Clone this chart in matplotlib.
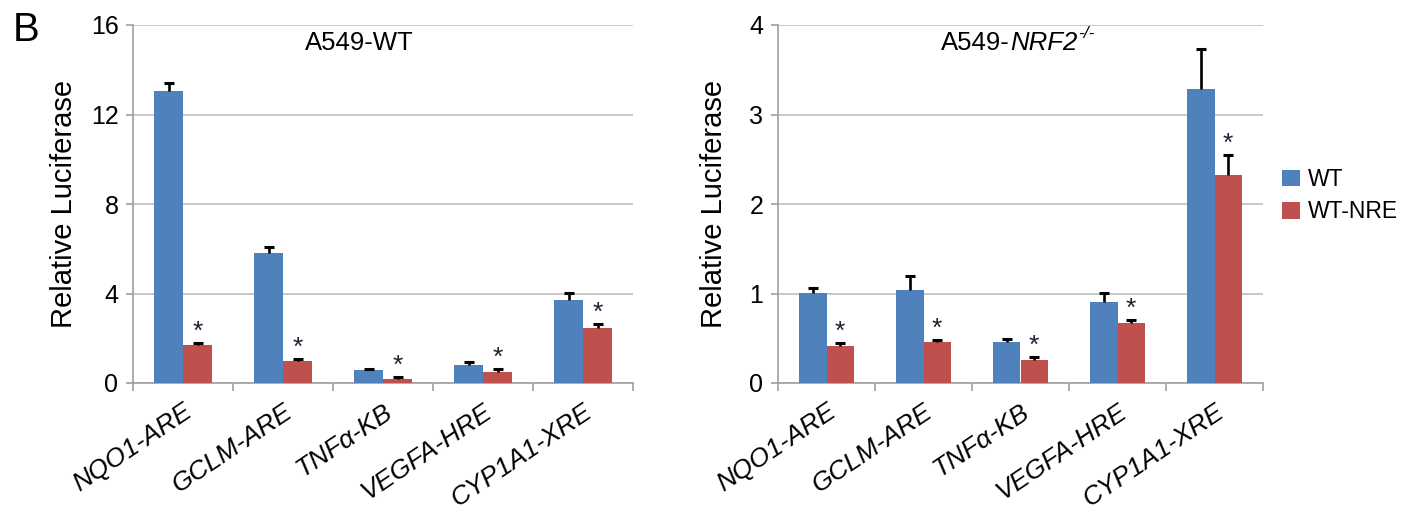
import matplotlib
matplotlib.use("Agg")
import matplotlib.pyplot as plt
import matplotlib.transforms as mtransforms
import numpy as np
from matplotlib.patches import Patch
from matplotlib.text import Annotation

plt.rcParams['font.family'] = ['Liberation Sans', 'DejaVu Sans']

categories = ["NQO1-ARE", "GCLM-ARE", "TNFα-KB", "VEGFA-HRE", "CYP1A1-XRE"]
series_names = ["WT", "WT-NRE"]

# A549-WT
wt_left = [13.07, 5.83, 0.56, 0.79, 3.72]
wt_left_err = [0.36, 0.27, 0.07, 0.17, 0.30]
nre_left = [1.68, 0.98, 0.19, 0.49, 2.45]
nre_left_err = [0.10, 0.10, 0.08, 0.12, 0.19]

# A549-NRF2-/-
wt_right = [1.01, 1.04, 0.46, 0.91, 3.28]
wt_right_err = [0.05, 0.15, 0.03, 0.10, 0.45]
nre_right = [0.41, 0.46, 0.26, 0.67, 2.32]
nre_right_err = [0.035, 0.025, 0.035, 0.03, 0.23]

blue = '#4F81BD'
red = '#C0504D'
grid_c = '#BFBFBF'
spine_c = '#A0A0A0'

W, H = 1416, 517
fig = plt.figure(figsize=(W / 100, H / 100), dpi=100)

def px_axes(x0, x1, y0, y1):
    return fig.add_axes([x0 / W, 1 - y1 / H, (x1 - x0) / W, (y1 - y0) / H])

ax1 = px_axes(133, 633, 25, 383)
ax2 = px_axes(778, 1263, 25, 383)

def draw(ax, wt, wte, nre, nree, ymax, step, bw, label_x):
    x = np.arange(len(categories))
    ax.bar(x - bw/2, wt, bw, color=blue, zorder=3, label=series_names[0])
    ax.bar(x + bw/2, nre, bw, color=red, zorder=3, label=series_names[1])
    for xs, v, e in ((x - bw/2, wt, wte), (x + bw/2, nre, nree)):
        cont = ax.errorbar(xs, v, yerr=[np.zeros(len(v)), e], fmt='none',
                           ecolor='black', elinewidth=1.9, capsize=3.6, capthick=2.2, zorder=4)
        caps = cont.lines[1]
        if len(caps) >= 2:
            caps[0].set_visible(False)  # hide lower caps (upper-only error bars)
    for xi, v, e in zip(x, nre, nree):
        ax.annotate('*', (xi + bw/2, v + e), xytext=(0, 4),
                    textcoords='offset pixels', ha='center', va='baseline',
                    fontsize=19, color='#1E2233', zorder=5)
    ax.set_xlim(-0.5, len(categories) - 0.5)
    ax.set_ylim(0, ymax)
    ax.set_yticks(np.arange(0, ymax + 0.001, step))
    ax.yaxis.grid(True, color=grid_c, linewidth=1.2, zorder=0)
    ax.set_axisbelow(True)
    for s in ['top', 'right']:
        ax.spines[s].set_visible(False)
    for s in ['left', 'bottom']:
        ax.spines[s].set_color(spine_c)
        ax.spines[s].set_linewidth(1.2)
    ax.set_xticks(x)
    ax.set_xticklabels(categories, rotation=34, ha='right', va='center',
                       rotation_mode='anchor', fontstyle='italic', fontsize=19)
    ax.tick_params(axis='x', which='major', length=0, pad=19)
    shift = mtransforms.ScaledTranslation(7 / 100, 0, fig.dpi_scale_trans)
    for lab in ax.get_xticklabels():
        lab.set_transform(lab.get_transform() + shift)
    ax.set_xticks(np.arange(-0.5, len(categories)), minor=True)
    ax.tick_params(axis='x', which='minor', length=6, color=spine_c, width=1.2, direction='out')
    ax.tick_params(axis='y', length=5, color=spine_c, width=1.2, labelsize=18, pad=5.5)
    ax.set_ylabel('Relative Luciferase', fontsize=21)
    ax.yaxis.set_label_coords(label_x, 0.5)

draw(ax1, wt_left, wt_left_err, nre_left, nre_left_err, 16, 4, 0.29, -0.11)
draw(ax2, wt_right, wt_right_err, nre_right, nre_right_err, 4, 1, 0.28, -0.103)

fig.text(305 / W, 1 - 43 / H, 'A549-WT', ha='left', va='center', fontsize=18.5)
t1 = fig.text(941 / W, 1 - 43 / H, 'A549-', ha='left', va='center', fontsize=18.5)
nrf = Annotation('NRF2', xy=(1, 0), xycoords=t1, ha='left', va='bottom',
                 fontsize=18.5, fontstyle='italic')
fig.add_artist(nrf)
sup = Annotation('-/-', xy=(1, 1), xycoords=nrf, xytext=(1, -2), textcoords='offset pixels',
                 ha='left', va='center', fontsize=12.5, fontstyle='italic')
fig.add_artist(sup)

fig.text(13 / W, 1 - 30 / H, 'B', fontsize=29, ha='left', va='center')

handles = [Patch(facecolor=blue, label=series_names[0]), Patch(facecolor=red, label=series_names[1])]
fig.legend(handles=handles, loc='upper left', bbox_to_anchor=(1282 / W, 1 - 168 / H),
           frameon=False, fontsize=16.5, handlelength=0.79, handleheight=0.75,
           handletextpad=0.35, labelspacing=0.4, borderpad=0, borderaxespad=0)

fig.savefig('out.png', dpi=100)
